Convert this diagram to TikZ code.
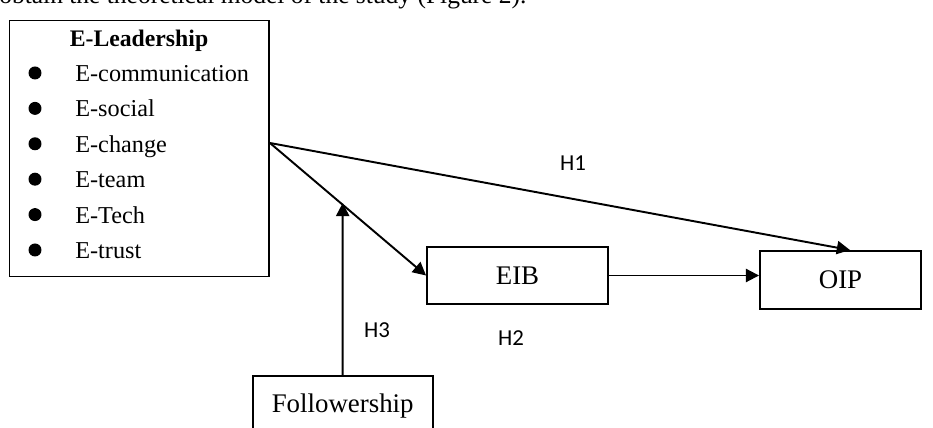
\documentclass[tikz,border=0pt]{standalone}
\usepackage{fontspec}
\setmainfont{Liberation Serif}
\newfontfamily\hfont{Carlito}
\usetikzlibrary{arrows.meta}

\tikzstyle{box}=[rectangle,draw=black,line width=1.1pt,inner sep=0pt,font=\fontsize{15.3}{18}\selectfont]
\tikzstyle{item}=[anchor=base west,inner sep=0pt,font=\fontsize{13.8}{16}\selectfont]
\tikzstyle{hyp}=[inner sep=0pt,font=\hfont\fontsize{13}{15}\selectfont]
\tikzstyle{post}=[-{Triangle[length=7.5pt,width=7.5pt]},line width=1.1pt]

\begin{document}
\begin{tikzpicture}[x=0.02cm,y=-0.02cm]
        \useasboundingbox (0,0) rectangle (933,428);
        \node[anchor=base west,inner sep=0pt,font=\fontsize{14.5}{17}\selectfont] (caption) at (-1,3.5) {obtain the theoretical model of the study (Figure 2).};

        % E-Leadership box with its dimensions
        \node[box,minimum width=5.19cm,minimum height=5.12cm] (lead) at (139.25,148.5) {};
        \node[anchor=base,inner sep=0pt,font=\bfseries\fontsize{13.5}{16}\selectfont] (title) at (139,46.5) {E-Leadership};
        \foreach \name [count=\i from 0] in {E-communication,E-social,E-change,E-team,E-Tech,E-trust} {
          \fill (35,73+35.4*\i) circle (0.13cm);
          \node[item] (item\i) at (75,81.5+35.4*\i) {\name};
        }

        \node[box,minimum width=3.62cm,minimum height=1.14cm] (eib)    at (517.5,275.5) {EIB};
        \node[box,minimum width=3.22cm,minimum height=1.16cm] (oip)    at (840.5,280)   {OIP};
        \node[box,minimum width=3.6cm,minimum height=1.2cm,anchor=north] (follow) at (342.7,375) {Followership};

        \coordinate (src)  at ([yshift=0.11cm]lead.east);
        \coordinate (tip1) at ([xshift=0.19cm]oip.north);

        \draw[post] (src) -- (tip1);
        \draw[post] (src) -- coordinate[pos=0.466] (hit) (eib.west);
        \draw[post,shorten >=-1pt] (follow.north) -- (hit);
        \draw[post] (eib.east) -- (eib.east -| oip.west);

        \node[hyp] (h1) at (573,163) {H1};
        \node[hyp] (h2) at (511,338) {H2};
        \node[hyp] (h3) at (377,330) {H3};
\end{tikzpicture}
\end{document}
